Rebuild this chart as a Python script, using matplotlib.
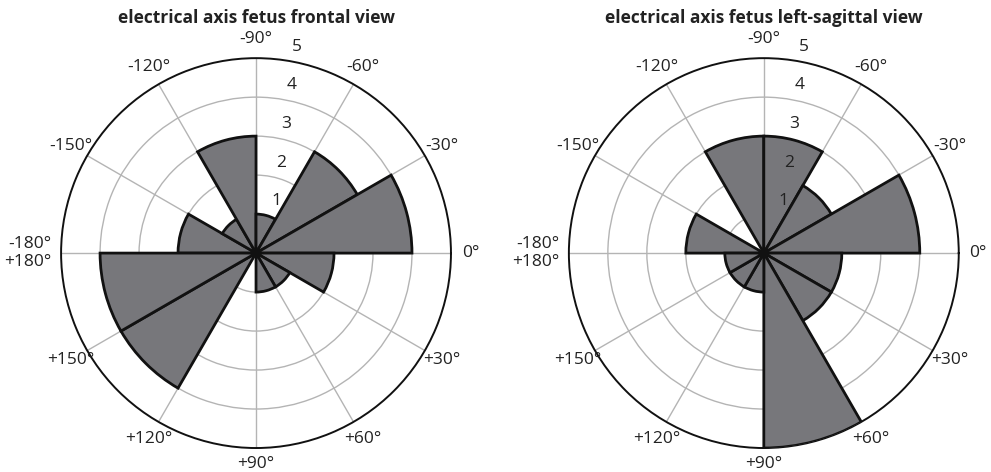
import numpy as np
import matplotlib
matplotlib.use("Agg")
import matplotlib.pyplot as plt
from matplotlib.transforms import offset_copy

# Bin left edges in degrees (positive = clockwise from 0 at the right)
bin_edges = [-180, -150, -120, -90, -60, -30, 0, 30, 60, 90, 120, 150]
frontal_counts = [2, 1, 3, 1, 3, 4, 2, 1, 1, 0, 4, 4]
sagittal_counts = [2, 0, 3, 3, 2, 4, 2, 2, 5, 1, 1, 1]

tick_angles = [0, 30, 60, 90, 120, 150, 180, 210, 240, 270, 300, 330]
tick_labels = ["0°", "+30°", "+60°", "+90°", "+120°", "+150°",
               "-180°\n+180°", "-150°", "-120°", "-90°", "-60°", "-30°"]
ring_values = [1, 2, 3, 4, 5]
titles = ["electrical axis fetus frontal view",
          "electrical axis fetus left-sagittal view"]

plt.rcParams["font.family"] = ["Open Sans", "DejaVu Sans"]

fig = plt.figure(figsize=(9.91, 4.72), dpi=100)
positions = [[0.0616, 0.0508, 0.3935, 0.826], [0.574, 0.0508, 0.3935, 0.826]]


def rose(ax, counts, title):
    ax.set_theta_zero_location("E")
    ax.set_theta_direction(-1)
    ax.bar(np.deg2rad(bin_edges), counts, width=np.deg2rad(30), align="edge",
           color="#77777b", edgecolor="#111111", linewidth=2, zorder=3)
    ax.plot(0, 0, "o", color="#111111", markersize=5, zorder=4)
    ax.set_ylim(0, 5)
    ax.set_rticks(ring_values[:-1])
    ax.set_yticklabels([])
    ax.set_thetagrids(tick_angles, [""] * len(tick_angles))
    ax.grid(True, color="#b4b4b4", linewidth=1.0)
    ax.spines["polar"].set_color("#111111")
    ax.spines["polar"].set_linewidth(1.4)
    # angle labels centred on a ring just outside the frame
    for ang, lab in zip(tick_angles, tick_labels):
        ha = "right" if ang == 180 else "center"
        r = {180: 5.25, 90: 5.4}.get(ang, 5.5)
        ax.text(np.deg2rad(ang), r, lab, fontsize=12.5, color="#222222",
                ha=ha, va="center", multialignment="right", clip_on=False)
    # ring numbers: stepped along a line just right of the top spoke
    shifted = offset_copy(ax.transData, fig=fig, x=15, y=13, units="dots")
    for r in ring_values:
        ax.text(np.deg2rad(-82.5), r, str(r), fontsize=12.5, transform=shifted,
                color="#222222", ha="center", va="center", zorder=5)
    x0, y0, w, h = ax.get_position().bounds
    fig.text(x0 + w / 2, 0.962, title, fontsize=12.5, fontweight="bold",
             color="#222222", ha="center", va="center")


for pos, counts, title in zip(positions, [frontal_counts, sagittal_counts], titles):
    ax = fig.add_axes(pos, projection="polar")
    rose(ax, counts, title)

fig.savefig("out.png", dpi=100, facecolor="white")
